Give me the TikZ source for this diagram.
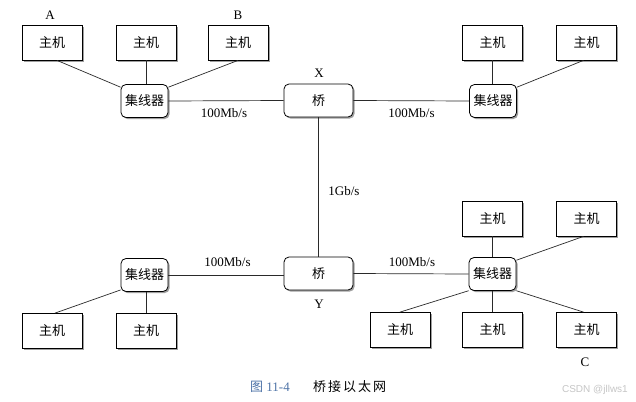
\documentclass[tikz,border=0pt]{standalone}
\usepackage{fontspec}
\setmainfont{Liberation Serif}
\newfontfamily\cjk{Noto Sans CJK SC}
\newfontfamily\wmfont{Liberation Sans}
\usetikzlibrary{shadows}
\definecolor{capblue}{HTML}{4F74A8}
\definecolor{linegray}{HTML}{2A2A2A}
\tikzset{
  x=1pt, y=-1pt,
  boxshadow/.style={drop shadow={shadow xshift=1.6pt, shadow yshift=-1.6pt, fill=gray!75, opacity=1}},
  host/.style={draw=black, line width=0.8pt, fill=white, minimum width=60pt, minimum height=35pt,
    inner sep=0pt, font=\cjk\fontsize{13}{13}\selectfont, boxshadow},
  hub/.style={draw=black, line width=0.8pt, fill=white, rounded corners=5pt, minimum width=47pt,
    minimum height=33pt, inner sep=0pt, font=\cjk\fontsize{13}{13}\selectfont, boxshadow},
  bridge/.style={draw=black, line width=0.8pt, fill=white, rounded corners=5pt, minimum width=69pt,
    minimum height=33pt, inner sep=0pt, font=\cjk\fontsize{13}{13}\selectfont, boxshadow},
  wire/.style={draw=linegray, line width=0.7pt},
  lbl/.style={font=\fontsize{13}{13}\selectfont, inner sep=0pt},
}
\begin{document}
\begin{tikzpicture}
\useasboundingbox (0,0) rectangle (636,401);
\fill[white] (0,0) rectangle (636,401);

% top-left group
\node[host] (h1) at (52,42.5) {主机};
\node[host] (h2) at (146,42.5) {主机};
\node[host] (h3) at (238,42.5) {主机};
\node[hub] (hubA) at (144.5,101) {集线器};
% top bridge
\node[bridge] (bx) at (318.5,100.5) {桥};
% top-right group
\node[host] (h4) at (492.5,42.5) {主机};
\node[host] (h5) at (586.5,42.5) {主机};
\node[hub] (hubB) at (493,101) {集线器};
% bottom bridge
\node[bridge] (by) at (318.5,273.5) {桥};
% bottom-left group
\node[hub] (hubC) at (144.5,275) {集线器};
\node[host] (h6) at (52,331) {主机};
\node[host] (h7) at (146,331) {主机};
% bottom-right group
\node[hub] (hubD) at (492.5,274) {集线器};
\node[host] (h8) at (492.5,218.5) {主机};
\node[host] (h9) at (586.5,218.5) {主机};
\node[host] (h10) at (400,330) {主机};
\node[host] (h11) at (492.5,330) {主机};
\node[host] (h12) at (586.5,330) {主机};

% wires
\draw[wire] ([xshift=5pt]h1.south) -- (hubA.150);
\draw[wire] (h2.south) -- (h2.south |- hubA.north);
\draw[wire] (h3.south) -- (hubA.30);
\draw[wire] (hubA.east) -- (bx.west);
\draw[wire] (bx.east) -- (hubB.west);
\draw[wire] (h4.south) -- (h4.south |- hubB.north);
\draw[wire] ([xshift=-3pt]h5.south) -- (hubB.30);
\draw[wire] (bx.south) -- (by.north);
\draw[wire] (hubC.east) -- (by.west |- hubC.east);
\draw[wire] (hubC.212) -- ([xshift=3pt]h6.north);
\draw[wire] (h7.north) -- (h7.north |- hubC.south);
\draw[wire] (by.east) -- (hubD.west);
\draw[wire] (h8.south) -- (h8.south |- hubD.north);
\draw[wire] ([xshift=-3pt]h9.south) -- (hubD.30);
\draw[wire] (hubD.215) -- (h10.north);
\draw[wire] (h11.north) -- (h11.north |- hubD.south);
\draw[wire] (hubD.325) -- ([xshift=-3pt]h12.north);

% labels
\node[lbl] (lA) at (50,15) {A};
\node[lbl] (lB) at (238,15) {B};
\node[lbl] (lX) at (319,73) {X};
\node[lbl] (lY) at (319,304) {Y};
\node[lbl] (lC) at (585,362) {C};
\node[lbl] (s1) at (224,113) {100Mb/s};
\node[lbl] (s2) at (411.5,113) {100Mb/s};
\node[lbl] (s3) at (227.5,262) {100Mb/s};
\node[lbl] (s4) at (412,262) {100Mb/s};
\node[lbl] (s5) at (344,191) {1Gb/s};

% caption
\node[lbl, text=capblue, anchor=west] (cap1) at (250,387) {{\cjk 图} 11-4};
\node[lbl, anchor=west] (cap2) at (313,387) {\cjk 桥\hspace{2pt}接\hspace{2pt}以\hspace{2pt}太\hspace{2pt}网};
\node[inner sep=0pt, anchor=east, text=gray!45, font=\wmfont\fontsize{10}{10}\selectfont] (wm) at (628,390) {CSDN @jllws1};
\end{tikzpicture}
\end{document}
